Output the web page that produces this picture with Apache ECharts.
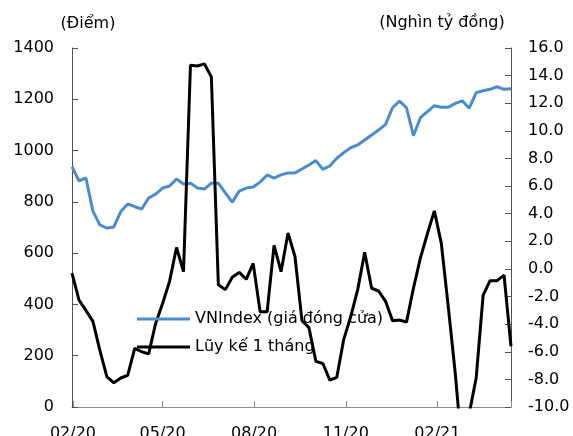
<!DOCTYPE html>
<html><head><meta charset="utf-8">
<script src="https://cdn.jsdelivr.net/npm/echarts@6/dist/echarts.min.js"></script>
<style>html,body{margin:0;padding:0;background:#fff}#c{width:573px;height:436px}</style>
</head><body><div id="c"></div>
<script>
const dates = ['2020-01-31','2020-02-07','2020-02-14','2020-02-21','2020-02-28','2020-03-06','2020-03-13','2020-03-20','2020-03-27','2020-04-03','2020-04-10','2020-04-17','2020-04-24','2020-05-01','2020-05-08','2020-05-15','2020-05-22','2020-05-29','2020-06-05','2020-06-12','2020-06-19','2020-06-26','2020-07-03','2020-07-10','2020-07-17','2020-07-24','2020-07-31','2020-08-07','2020-08-14','2020-08-21','2020-08-28','2020-09-04','2020-09-11','2020-09-18','2020-09-25','2020-10-02','2020-10-09','2020-10-16','2020-10-23','2020-10-30','2020-11-06','2020-11-13','2020-11-20','2020-11-27','2020-12-04','2020-12-11','2020-12-18','2020-12-25','2021-01-01','2021-01-08','2021-01-15','2021-01-22','2021-01-29','2021-02-05','2021-02-12','2021-02-19','2021-02-26','2021-03-05','2021-03-12','2021-03-19','2021-03-26','2021-04-02','2021-04-09','2021-04-16'];
const vnindex = [937,882,893,764,710,698,702,762,792,781,772,815,830,854,862,889,870,873,854,850,873,873,835,799,842,854,858,877,905,893,905,913,913,928,944,961,927,940,970,992,1011,1022,1041,1061,1080,1102,1167,1193,1167,1058,1128,1152,1175,1169,1169,1184,1194,1165,1226,1233,1239,1249,1239,1241];
const luyKe = [-0.3,-2.25,-3.0,-3.8,-5.9,-7.8,-8.25,-7.9,-7.7,-5.75,-6.0,-6.15,-3.95,-2.5,-0.9,1.55,-0.2,14.75,14.7,14.85,13.9,-1.15,-1.5,-0.6,-0.25,-0.75,0.4,-3.1,-3.1,1.7,-0.2,2.6,0.9,-3.75,-4.25,-6.7,-6.85,-8.05,-7.85,-5.1,-3.45,-1.5,1.2,-1.4,-1.6,-2.35,-3.75,-3.7,-3.85,-1.4,0.8,2.55,4.2,1.85,-2.75,-7.55,-13.3,-10.5,-7.9,-1.9,-0.85,-0.85,-0.45,-5.6];
const xTickDates = ['2020-02-01','2020-05-01','2020-08-01','2020-11-01','2021-02-01'];
const xTickLabels = ['02/20','05/20','08/20','11/20','02/21'];
const seriesNames = ['VNIndex (giá đóng cửa)','Lũy kế 1 tháng'];
const axisTitles = ['(Điểm)','(Nghìn tỷ đồng)'];

function dayNo(s){const p=s.split('-').map(Number);return Math.round(Date.UTC(p[0],p[1]-1,p[2])/86400000);}
const d0 = dayNo(dates[0]);
const xDays = dates.map(d=>dayNo(d)-d0);
const tickDays = xTickDates.map(d=>dayNo(d)-d0);
const FONT = 'DejaVu Sans';

const chart = echarts.init(document.getElementById('c'), null, {renderer:'canvas'});
chart.setOption({
  animation:false,
  backgroundColor:'#fff',
  grid:{left:72,right:62,top:48,bottom:29,containLabel:false,outerBoundsMode:'none'},
  graphic:[
    {type:'text',x:88,y:24,style:{text:axisTitles[0],font:'16px "DejaVu Sans"',fill:'#000',textAlign:'center',textVerticalAlign:'middle'}},
    {type:'text',x:442,y:23,style:{text:axisTitles[1],font:'16px "DejaVu Sans"',fill:'#000',textAlign:'center',textVerticalAlign:'middle'}}
  ],
  legend:{
    orient:'vertical',left:132,top:306,itemWidth:53,itemHeight:3,itemGap:12,
    icon:'rect',
    textStyle:{fontFamily:FONT,fontSize:16,color:'#000',lineHeight:16},
    data:[{name:seriesNames[0],itemStyle:{color:'#4a8cd0'}},{name:seriesNames[1],itemStyle:{color:'#000'}}]
  },
  xAxis:{
    type:'value',min:0,max:xDays[xDays.length-1],
    axisLine:{lineStyle:{color:'#8c8c8c',width:1}},
    axisTick:{show:true,inside:true,length:6,lineStyle:{color:'#8c8c8c'},customValues:tickDays.concat([xDays[xDays.length-1]])},
    axisLabel:{customValues:tickDays,margin:19,fontFamily:FONT,fontSize:16,color:'#000',
      formatter:function(v){const i=tickDays.indexOf(Math.round(v));return i>=0?xTickLabels[i]:'';},
      hideOverlap:false},
    splitLine:{show:false}
  },
  yAxis:[
    {type:'value',min:0,max:1400,interval:200,position:'left',
      axisLine:{show:true,lineStyle:{color:'#505050'}},
      axisTick:{show:true,inside:true,length:6,lineStyle:{color:'#505050'}},
      axisLabel:{margin:18,fontFamily:FONT,fontSize:16,color:'#000',formatter:v=>String(v)},
      splitLine:{show:false}},
    {type:'value',min:-10,max:16,interval:2,position:'right',
      axisLine:{show:true,lineStyle:{color:'#505050'}},
      axisTick:{show:true,inside:true,length:6,lineStyle:{color:'#505050'}},
      axisLabel:{margin:17,fontFamily:FONT,fontSize:16,color:'#000',formatter:v=>v.toFixed(1)},
      splitLine:{show:false}}
  ],
  series:[
    {name:seriesNames[0],type:'line',yAxisIndex:0,showSymbol:false,symbol:'none',
      lineStyle:{color:'#4a8cd0',width:3},itemStyle:{color:'#4a8cd0'},
      data:xDays.map((x,i)=>[x,vnindex[i]])},
    {name:seriesNames[1],type:'line',yAxisIndex:1,showSymbol:false,symbol:'none',clip:true,
      lineStyle:{color:'#000',width:3},itemStyle:{color:'#000'},
      data:xDays.map((x,i)=>[x,luyKe[i]])}
  ]
});
</script></body></html>
